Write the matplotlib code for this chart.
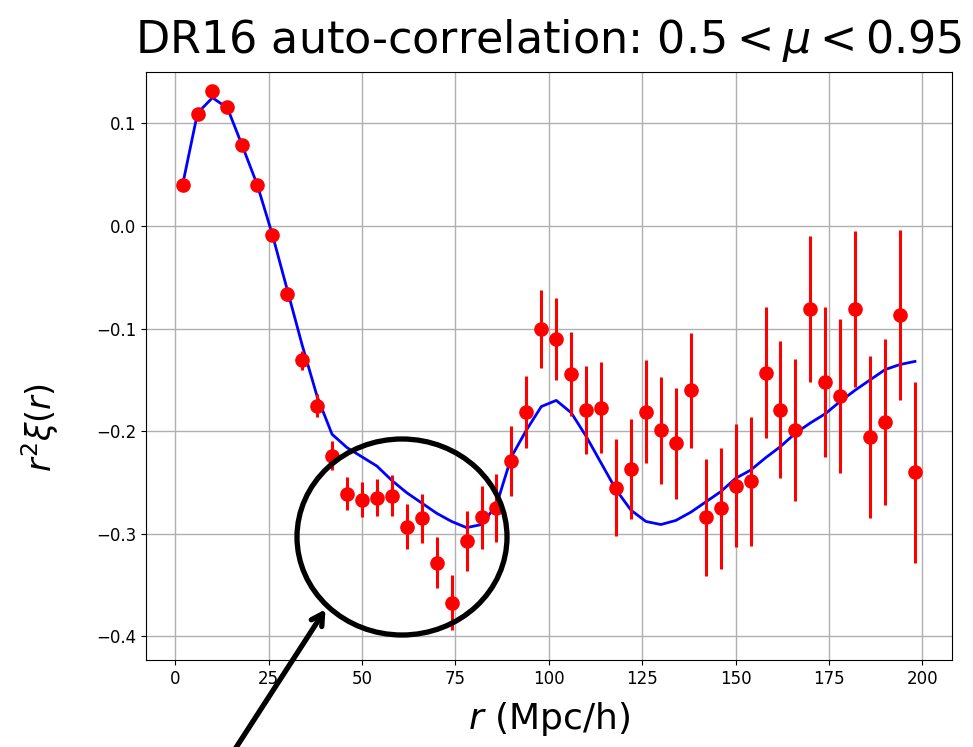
import matplotlib
matplotlib.use("Agg")
import matplotlib.pyplot as plt
from matplotlib.patches import Ellipse
import numpy as np

r = np.arange(2, 200, 4)

xi_data = [0.040, 0.109, 0.132, 0.116, 0.079, 0.040, -0.009, -0.066, -0.131, -0.175,
           -0.224, -0.261, -0.267, -0.265, -0.263, -0.293, -0.285, -0.328, -0.367, -0.307,
           -0.284, -0.275, -0.229, -0.181, -0.100, -0.110, -0.144, -0.179, -0.177, -0.255,
           -0.237, -0.181, -0.199, -0.212, -0.160, -0.284, -0.275, -0.253, -0.249, -0.143,
           -0.179, -0.199, -0.081, -0.152, -0.166, -0.081, -0.206, -0.191, -0.087, -0.240]

xi_err = [0.002, 0.002, 0.003, 0.003, 0.004, 0.004, 0.005, 0.007, 0.009, 0.011,
          0.014, 0.016, 0.017, 0.018, 0.020, 0.022, 0.024, 0.025, 0.027, 0.029,
          0.031, 0.033, 0.034, 0.035, 0.038, 0.040, 0.041, 0.043, 0.044, 0.047,
          0.049, 0.050, 0.052, 0.054, 0.056, 0.057, 0.059, 0.060, 0.063, 0.064,
          0.067, 0.069, 0.071, 0.073, 0.075, 0.076, 0.079, 0.081, 0.083, 0.088]

xi_model = [0.040, 0.110, 0.125, 0.115, 0.078, 0.040, -0.008, -0.062, -0.116, -0.166,
            -0.203, -0.216, -0.225, -0.234, -0.248, -0.260, -0.270, -0.280, -0.288, -0.294,
            -0.291, -0.272, -0.225, -0.199, -0.176, -0.170, -0.182, -0.205, -0.231, -0.257,
            -0.277, -0.288, -0.291, -0.287, -0.279, -0.269, -0.259, -0.246, -0.238, -0.226,
            -0.215, -0.202, -0.192, -0.183, -0.171, -0.160, -0.150, -0.140, -0.135, -0.132]

title = r"DR16 auto-correlation: $0.5 < \mu < 0.95$"

fig = plt.figure(figsize=(9.73, 7.47), dpi=100)
ax = fig.add_axes([0.150, 0.1165, 0.828, 0.787])

ax.plot(r, xi_model, color="blue", lw=2, zorder=2)
ax.errorbar(r, xi_data, yerr=xi_err, fmt="o", color="red", ecolor="red",
            markersize=9.5, elinewidth=2.2, capsize=0, zorder=3)

ax.set_xlim(-7.8, 207.8)
ax.set_ylim(-0.423, 0.150)
ax.set_xticks([0, 25, 50, 75, 100, 125, 150, 175, 200])
ax.set_yticks([-0.4, -0.3, -0.2, -0.1, 0.0, 0.1])
ax.tick_params(labelsize=12)
ax.grid(True, color="#b0b0b0", lw=1.0)
ax.set_axisbelow(True)

ax.set_xlabel(r"$r$ (Mpc/h)", fontsize=26)
ax.set_ylabel(r"$r^2\xi(r)$", fontsize=24)
ax.xaxis.set_label_coords(0.5, -0.068)
ax.yaxis.set_label_coords(-0.106, 0.395)
ax.set_title(title, fontsize=32, pad=14)

# annotation: circle and arrow
ell = Ellipse((402 / 973, 1 - 537 / 747), 210 / 973, 196 / 747,
              transform=fig.transFigure, fill=False, edgecolor="black",
              lw=3.8, zorder=10, clip_on=False)
fig.add_artist(ell)

ax.annotate("", xy=(327 / 973, 1 - 607 / 747), xycoords="figure fraction",
            xytext=(228 / 973, 1 - 760 / 747), textcoords="figure fraction",
            arrowprops=dict(arrowstyle="->,head_length=0.8,head_width=0.45",
                            color="black", lw=3.8),
            annotation_clip=False, zorder=10)

fig.savefig("out.png", dpi=100)
